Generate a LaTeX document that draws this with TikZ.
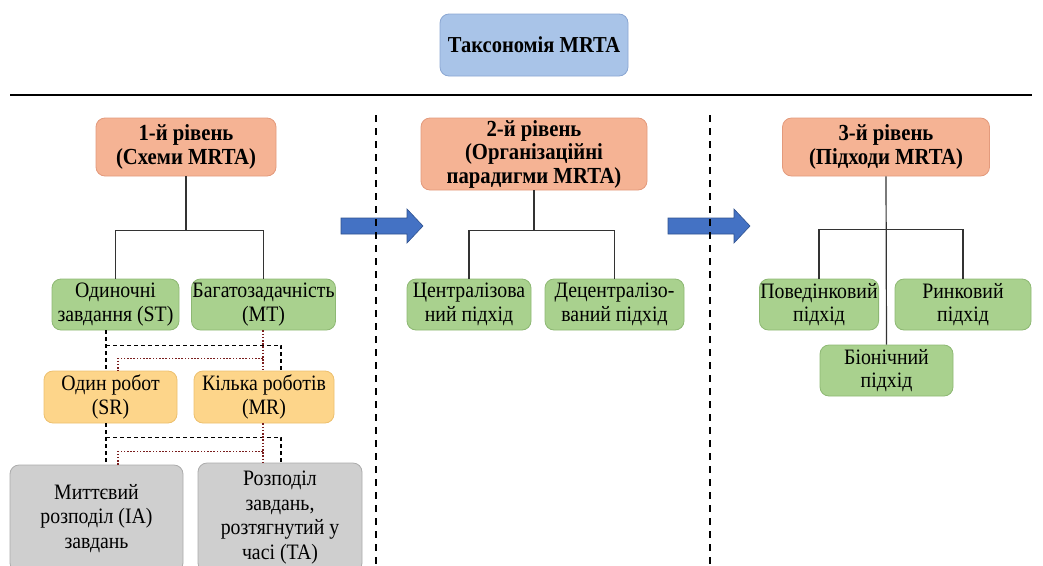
\documentclass[tikz,border=0pt]{standalone}
\usepackage{fontspec}
\setmainfont[FakeStretch=0.9]{Liberation Serif}
\usetikzlibrary{calc}

\definecolor{titlefill}{HTML}{A9C4E8}
\definecolor{titleedge}{HTML}{8AA6D2}
\definecolor{levelfill}{HTML}{F5B394}
\definecolor{leveledge}{HTML}{E39A7C}
\definecolor{greenfill}{HTML}{A9D18E}
\definecolor{greenedge}{HTML}{8DB873}
\definecolor{yellowfill}{HTML}{FDD58A}
\definecolor{yellowedge}{HTML}{EDC06E}
\definecolor{grayfill}{HTML}{CFCFCF}
\definecolor{grayedge}{HTML}{ABABAB}
\definecolor{arrowblue}{HTML}{4472C4}
\definecolor{arrowedge}{HTML}{2F528F}
\definecolor{dotred}{HTML}{7A1E1E}

\tikzset{
    box/.style={draw, rounded corners=9pt, line width=0.8pt, align=center, inner sep=1pt,
        font=\fontsize{22}{23.5}\selectfont},
    titlebox/.style={box, fill=titlefill, draw=titleedge, font=\fontsize{22.8}{24}\selectfont\bfseries},
    levelbox/.style={box, fill=levelfill, draw=leveledge, font=\fontsize{23}{23.5}\selectfont\bfseries},
    greenbox/.style={box, fill=greenfill, draw=greenedge},
    yellowbox/.style={box, fill=yellowfill, draw=yellowedge},
    graybox/.style={box, fill=grayfill, draw=grayedge, font=\fontsize{22}{24.5}\selectfont},
    tree/.style={draw=black!80, line width=1.2pt},
    dashline/.style={line width=1.4pt, dash pattern=on 4pt off 3pt},
    dotline/.style={draw=dotred, line width=1.6pt, dash pattern=on 1.6pt off 1.6pt},
    sepline/.style={line width=2pt, dash pattern=on 7pt off 6pt},
    blockarrow/.style={fill=arrowblue, draw=arrowedge, line width=0.6pt}
}

\begin{document}
\begin{tikzpicture}[x=1pt, y=-1pt]
    \useasboundingbox (0,0) rectangle (1043,565);

    % title and rule
    \node[titlebox, minimum width=188pt, minimum height=62pt] (title) at (534,45) {Таксономія MRTA};
    \draw[line width=1.6pt] (10,95) -- (1032,95);

    % level headers
    \node[levelbox, minimum width=180pt, minimum height=58pt] (lvl1) at (186,147) {1-й рівень\\(Схеми MRTA)};
    \node[levelbox, minimum width=226pt, minimum height=72pt] (lvl2) at (534,154) {2-й рівень\\(Організаційні\\парадигми MRTA)};
    \node[levelbox, minimum width=207pt, minimum height=58pt] (lvl3) at (886,147) {3-й рівень\\(Підходи MRTA)};

    % level 1
    \node[greenbox, minimum width=127pt, minimum height=51pt] (st) at (115.5,304.5) {Одиночні\\завдання (ST)};
    \node[greenbox, minimum width=143pt, minimum height=51pt] (mt) at (263.5,304.5) {Багатозадачність\\(MT)};
    \node[yellowbox, minimum width=133pt, minimum height=52pt] (sr) at (110.5,397) {Один робот\\(SR)};
    \node[yellowbox, minimum width=140pt, minimum height=52pt] (mr) at (264,397) {Кілька роботів\\(MR)};
    \node[graybox, minimum width=173pt, minimum height=107pt] (ia) at (96.5,518.5) {Миттєвий\\розподіл (IA)\\завдань};
    \node[graybox, minimum width=164pt, minimum height=109pt] (ta) at (280,517.5) {Розподіл\\завдань,\\розтягнутий у\\часі (TA)};

    % level 2
    \node[greenbox, minimum width=124pt, minimum height=51pt] (cen) at (469,304.5) {Централізова\\ний підхід};
    \node[greenbox, minimum width=139pt, minimum height=51pt] (dec) at (614.5,304.5) {Децентралізо-\\ваний підхід};

    % level 3
    \node[greenbox, minimum width=118pt, minimum height=51pt] (beh) at (819,304.5) {Поведінковий\\підхід};
    \node[greenbox, minimum width=136pt, minimum height=51pt] (mkt) at (963,304.5) {Ринковий\\підхід};
    \node[greenbox, minimum width=133pt, minimum height=51pt] (bio) at (886.5,370.5) {Біонічний\\підхід};

    % trees
    \draw[tree] (lvl1.south) -- ++(0,54) coordinate (j1);
    \draw[tree] (j1) -| (st.north);
    \draw[tree] (j1) -| (mt.north);
    \draw[tree] (lvl2.south) -- ++(0,40) coordinate (j2);
    \draw[tree] (j2) -| (cen.north);
    \draw[tree] (j2) -| (dec.north);
    \draw[tree] (lvl3.south) -- (bio.north);
    \draw[tree] (lvl3.south) ++(0,53) coordinate (j3);
    \draw[tree] (j3) -| (beh.north);
    \draw[tree] (j3) -| (mkt.north);

    % dashed / dotted links between rows
    \coordinate (c1) at (106,0);
    \coordinate (c2) at (118,0);
    \coordinate (c3) at (263,0);
    \coordinate (c4) at (281,0);
    \draw[dashline] (c1 |- st.south) -- (c1 |- sr.north);
    \draw[dashline] (c1 |- st.south) ++(0,15) -| (c4 |- mr.north);
    \draw[dotline] (c3 |- mt.south) -- (c3 |- mr.north);
    \draw[dotline] (c3 |- mt.south) ++(0,28) -| (c2 |- sr.north);
    \draw[dashline] (c1 |- sr.south) -- (c1 |- ia.north);
    \draw[dashline] (c1 |- sr.south) ++(0,14) -| (c4 |- ta.north);
    \draw[dotline] (c3 |- mr.south) -- (c3 |- ta.north);
    \draw[dotline] (c3 |- mr.south) ++(0,28) -| (c2 |- ia.north);

    % block arrows
    \foreach \x in {341, 668} {
        \filldraw[blockarrow] (\x,218) -- (\x+66,218) -- (\x+66,209) -- (\x+82,226)
            -- (\x+66,243) -- (\x+66,234) -- (\x,234) -- cycle;
    }

    % column separators
    \foreach \x in {376, 710} {
        \draw[sepline] (\x,115) -- (\x,565);
    }
\end{tikzpicture}
\end{document}
